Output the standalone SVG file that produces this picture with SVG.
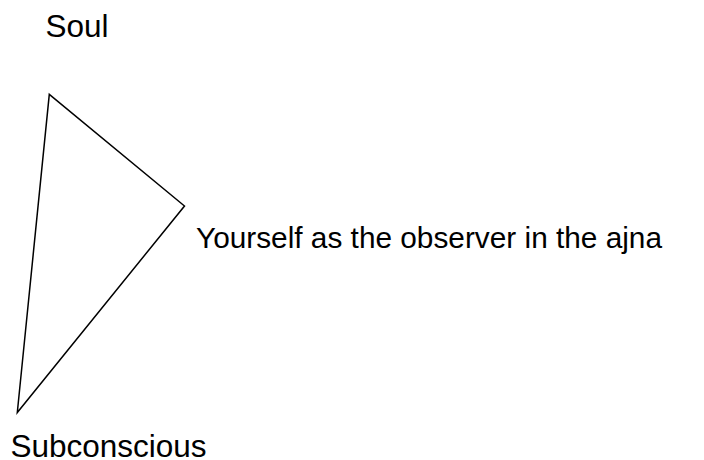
<svg xmlns="http://www.w3.org/2000/svg" width="704" height="460" viewBox="0 0 704 460">
<style>
text{font-family:"Liberation Sans",Arial,sans-serif;font-size:31.5px;fill:#000}
.mid{font-size:29.8px}
.edge{fill:none;stroke:#000;stroke-width:1.5}
</style>
<rect width="704" height="460" fill="#fff"/>
<g id="connectors">
<polygon class="edge" points="49.3,94.3 184.5,206 17.3,412.5"/>
</g>
<g id="soul"><text x="45.5" y="36.5">Soul</text></g>
<g id="observer"><text class="mid" x="196" y="248">Yourself as the observer in the ajna</text></g>
<g id="subconscious"><text x="10.5" y="456.5">Subconscious</text></g>
</svg>
